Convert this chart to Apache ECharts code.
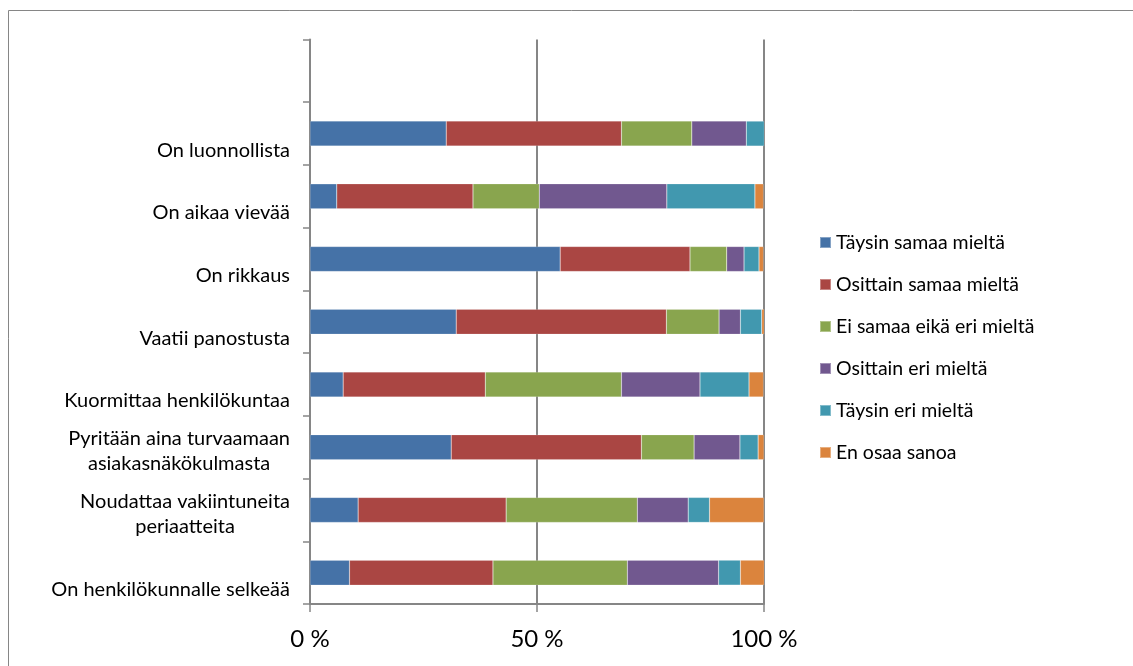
<!DOCTYPE html>
<html>
<head>
<meta charset="utf-8">
<script src="https://cdn.jsdelivr.net/npm/echarts@6/dist/echarts.min.js"></script>
<style>
html,body{margin:0;padding:0;background:#fff;}
#chart{width:1133px;height:666px;}
</style>
</head>
<body>
<div id="chart"></div>
<script>
var categories = [
  'On henkilökunnalle selkeää',
  'Noudattaa vakiintuneita\nperiaatteita',
  'Pyritään aina turvaamaan\nasiakasnäkökulmasta',
  'Kuormittaa henkilökuntaa',
  'Vaatii panostusta',
  'On rikkaus',
  'On aikaa vievää',
  'On luonnollista',
  ''
];
var seriesNames = ['Täysin samaa mieltä','Osittain samaa mieltä','Ei samaa eikä eri mieltä','Osittain eri mieltä','Täysin eri mieltä','En osaa sanoa'];
var taysinSamaa   = [8.7, 10.6, 31.1, 7.3, 32.2, 55.1, 5.9, 30.0, null];
var osittainSamaa = [31.6, 32.6, 41.9, 31.3, 46.3, 28.6, 30.0, 38.6, null];
var eiSamaaEikaEri= [29.6, 28.9, 11.6, 30.0, 11.6, 8.1, 14.6, 15.5, null];
var osittainEri   = [20.1, 11.2, 10.1, 17.3, 4.7, 3.8, 28.1, 12.0, null];
var taysinEri     = [4.8, 4.7, 4.0, 10.8, 4.7, 3.3, 19.4, 4.0, null];
var enOsaa        = [5.3, 12.0, 1.3, 3.2, 0.6, 1.0, 1.9, 0, null];
var xTicks = {min: 0, max: 100, interval: 50};

var colors = ['#4572A7','#AA4643','#89A54E','#71588F','#4198AF','#DB843D'];
var allData = [taysinSamaa, osittainSamaa, eiSamaaEikaEri, osittainEri, taysinEri, enOsaa];
var FONT = 'Lato';
var gray = '#868686';

var chart = echarts.init(document.getElementById('chart'));
chart.setOption({
  animation: false,
  backgroundColor: '#fff',
  color: colors,
  graphic: [{
    type: 'rect', z: -1, silent: true,
    shape: {x: 8.5, y: 10.5, width: 1300, height: 1000},
    style: {fill: 'none', stroke: gray, lineWidth: 1}
  }],
  legend: {
    orient: 'vertical',
    left: 814, top: 226.5,
    icon: 'rect',
    itemWidth: 11, itemHeight: 11,
    itemGap: 20,
    textStyle: {fontFamily: FONT, fontSize: 19.5, lineHeight: 22, color: '#000'},
    data: seriesNames
  },
  grid: {left: 310, right: 369, top: 39.5, bottom: 62, containLabel: false},
  xAxis: {
    type: 'value', min: xTicks.min, max: xTicks.max, interval: xTicks.interval,
    axisLine: {show: true, lineStyle: {color: gray, width: 2}},
    axisTick: {show: true, length: 8, lineStyle: {color: gray, width: 1.5}},
    splitLine: {show: true, lineStyle: {color: gray, width: 2}},
    axisLabel: {fontFamily: FONT, fontSize: 24, lineHeight: 24, color: '#000', margin: 23,
      formatter: function (v) { return v + ' %'; }}
  },
  yAxis: {
    type: 'category', data: categories,
    axisLine: {show: true, lineStyle: {color: gray, width: 2}},
    axisTick: {show: true, length: 7, lineStyle: {color: gray, width: 1.5}},
    axisLabel: {
      interval: 0, margin: 20, align: 'right', verticalAlign: 'bottom',
      padding: [0, 0, -29, 0],
      fontFamily: FONT, fontSize: 20, lineHeight: 25, color: '#000',
      formatter: function (v) {
        if (!v) return '';
        return v.split('\n').map(function (s) { return '{c|' + s + '}'; }).join('\n');
      },
      rich: {c: {align: 'center', fontFamily: FONT, fontSize: 20, lineHeight: 25, color: '#000'}}
    }
  },
  series: seriesNames.map(function (name, i) {
    return {
      name: name, type: 'bar', stack: 'total', barWidth: 25,
      itemStyle: {color: colors[i], borderColor: 'rgba(255,255,255,0.35)', borderWidth: 0.5},
      data: allData[i]
    };
  })
});
</script>
</body>
</html>
